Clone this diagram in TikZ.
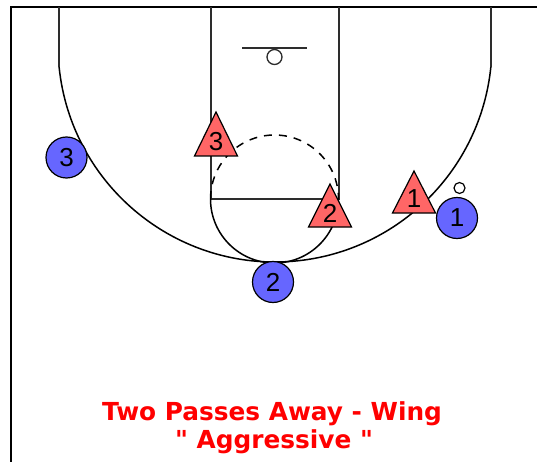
\documentclass[tikz,border=0pt]{standalone}
\usepackage{fontspec}
\setmainfont{Liberation Sans}
\newfontfamily\titlefont{DejaVu Sans}
\begin{document}
\begin{tikzpicture}[x=1pt,y=-1pt,
  court/.style={draw={rgb,255:red,45;green,45;blue,45}, line width=2pt},
  arcline/.style={draw=black, line width=1.5pt},
  frame/.style={draw=black, line width=2.2pt},
  offtri/.style={draw=black, line width=1.2pt, fill={rgb,255:red,255;green,102;blue,102}, line join=miter},
  digit/.style={font=\fontsize{26}{26}\selectfont, inner sep=0pt, text=black},
  defp/.style={circle, draw=black, line width=1.2pt, fill={rgb,255:red,102;green,102;blue,255}, minimum size=41pt, inner sep=0pt, font=\fontsize{26}{26}\selectfont},
  ball/.style={circle, draw=black, line width=1.2pt, fill=white, minimum size=11pt, inner sep=0pt},
  title/.style={text=red, font=\titlefont\bfseries\fontsize{24.8}{28}\selectfont, align=center}
]
\useasboundingbox (0,0) rectangle (537,462);
\fill[white] (0,0) rectangle (537,462);
% frame
\coordinate (tl) at (11,7);
\coordinate (tr) at (537,7);
\coordinate (bl) at (11,462);
\draw[frame] (tr) -- (tl) -- (bl);
% three point line
\coordinate (c3) at (275,45);
\coordinate (l3top) at (59.1,7);
\coordinate (l3) at (59.1,67);
\coordinate (r3) at (490.9,67);
\coordinate (r3top) at (490.9,7);
\draw[court] (l3top) -- (l3);
\draw[court] (r3) -- (r3top);
\draw[arcline] (l3) arc[start angle=174.18, end angle=5.82, radius=217];
% lane
\coordinate (lanetl) at (210.5,7);
\coordinate (lanebl) at (210.5,199);
\coordinate (lanebr) at (338.5,199);
\coordinate (lanetr) at (338.5,7);
\draw[court] (lanetl) -- (lanebl) -- (lanebr) -- (lanetr);
% free throw circle
\draw[arcline] (lanebr) arc[start angle=0, end angle=180, radius=64];
\draw[arcline, dash pattern=on 8pt off 7pt] (lanebl) arc[start angle=180, end angle=360, radius=64];
% basket
\coordinate (bbl) at (242,48);
\coordinate (bbr) at (307,48);
\draw[court] (bbl) -- (bbr);
\node[circle, draw={rgb,255:red,45;green,45;blue,45}, line width=1.3pt, minimum size=15pt, inner sep=0pt, fill=white] (rim) at (274.5,57) {};
% offense triangles
\draw[offtri] (216,112) -- (194.5,156) -- (237.5,156) -- cycle;
\node[digit] (o3) at (216,142) {3};
\draw[offtri] (330,184) -- (308.5,227) -- (351.5,227) -- cycle;
\node[digit] (o2) at (330,213) {2};
\draw[offtri] (414,171) -- (392.5,213) -- (435.5,213) -- cycle;
\node[digit] (o1) at (414,199) {1};
% defenders
\node[defp] (d3) at (66.5,157.5) {3};
\node[defp] (d2) at (273,282) {2};
\node[defp] (d1) at (457,218) {1};
\node[ball] (b) at (459.5,188) {};
% title
\node[title, anchor=base] (t1) at (272,420) {Two Passes Away - Wing};
\node[title, anchor=base] (t2) at (274,448) {" Aggressive "};
\end{tikzpicture}
\end{document}
